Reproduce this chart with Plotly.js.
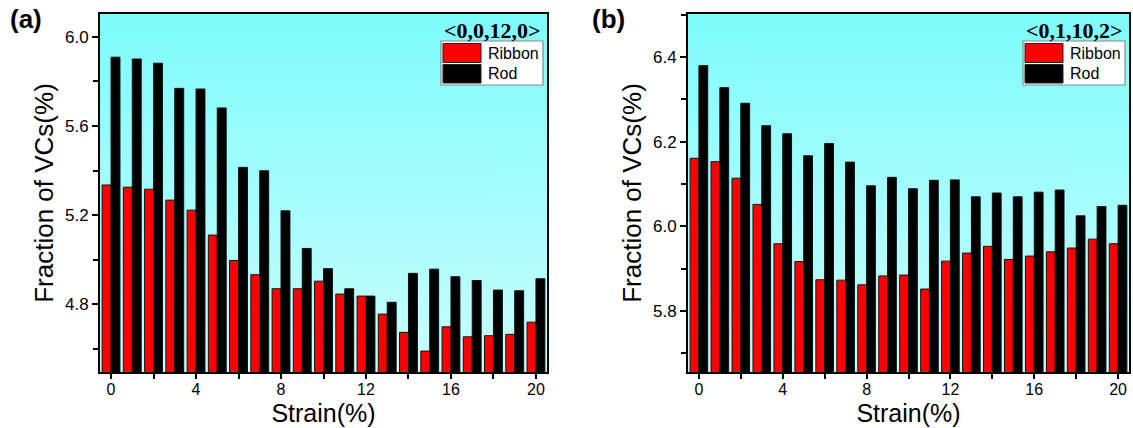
<!DOCTYPE html>
<html>
<head>
<meta charset="utf-8">
<script src="https://cdn.plot.ly/plotly-3.0.1.min.js"></script>
<style>
  html, body { margin: 0; padding: 0; background: #ffffff; }
  #chart { width: 1133px; height: 428px; }
</style>
</head>
<body>
<div id="chart"></div>
<script>
// ---------------- data ----------------
const strain = [0, 1, 2, 3, 4, 5, 6, 7, 8, 9, 10, 11, 12, 13, 14, 15, 16, 17, 18, 19, 20];

// panel (a) <0,0,12,0>
const ribbonA = [5.335, 5.325, 5.316, 5.267, 5.222, 5.110, 4.996, 4.932, 4.869, 4.869, 4.903,
                 4.845, 4.836, 4.755, 4.673, 4.589, 4.698, 4.653, 4.658, 4.664, 4.719];
const rodA    = [5.909, 5.901, 5.882, 5.769, 5.766, 5.681, 5.414, 5.399, 5.219, 5.050, 4.959,
                 4.869, 4.836, 4.808, 4.938, 4.957, 4.923, 4.906, 4.863, 4.860, 4.914];

// panel (b) <0,1,10,2>
const ribbonB = [6.161, 6.153, 6.114, 6.052, 5.959, 5.917, 5.874, 5.873, 5.862, 5.883, 5.885,
                 5.852, 5.918, 5.937, 5.953, 5.922, 5.930, 5.940, 5.949, 5.970, 5.959];
const rodB    = [6.380, 6.328, 6.291, 6.238, 6.219, 6.167, 6.196, 6.152, 6.096, 6.116, 6.089,
                 6.109, 6.110, 6.070, 6.079, 6.070, 6.081, 6.086, 6.025, 6.047, 6.050];

const seriesNames = ["Ribbon", "Rod"];
const panelLabels = ["(a)", "(b)"];
const clusterLabels = ["<0,0,12,0>", "<0,1,10,2>"];
const xTitle = "Strain(%)";
const yTitle = "Fraction of VCs(%)";

// ---------------- styling ----------------
const W = 1133, H = 428;
const RED = "#ff0000", BLACK = "#000000";
const SANS = "Liberation Sans, Arial, sans-serif";
const SERIF = "Liberation Serif, Times New Roman, serif";

// plot boxes in pixels
const boxes = [
  {L: 100, R: 547, T: 14, B: 372},
  {L: 688, R: 1129, T: 14, B: 372}
];
const px = x => x / W;
const py = y => 1 - y / H;

// gradient background image
function gradientURI() {
  const c = document.createElement("canvas");
  c.width = 4; c.height = 256;
  const g = c.getContext("2d");
  const grd = g.createLinearGradient(0, 0, 0, 256);
  grd.addColorStop(0, "rgb(126,252,252)");
  grd.addColorStop(1, "rgb(202,254,254)");
  g.fillStyle = grd;
  g.fillRect(0, 0, 4, 256);
  return c.toDataURL("image/png");
}
const bgURI = gradientURI();

function barTrace(y, name, color, xa, ya) {
  return {
    type: "bar", x: strain, y: y, name: name, xaxis: xa, yaxis: ya,
    marker: {color: color, line: {color: "#111111", width: 1}},
    showlegend: false, hoverinfo: "x+y+name"
  };
}

const data = [
  barTrace(ribbonA, seriesNames[0], RED, "x", "y"),
  barTrace(rodA, seriesNames[1], BLACK, "x", "y"),
  barTrace(ribbonB, seriesNames[0], RED, "x2", "y2"),
  barTrace(rodB, seriesNames[1], BLACK, "x2", "y2")
];

function xAxis(box, anchor) {
  return {
    domain: [px(box.L), px(box.R)], anchor: anchor,
    range: [-0.52, 20.52],
    tickmode: "linear", tick0: 0, dtick: 4,
    ticks: "outside", ticklen: 5, tickwidth: 2, tickcolor: "#000",
    ticklabelstandoff: -3,
    minor: {dtick: 2, tick0: 0, ticks: "outside", ticklen: 5, tickwidth: 2, tickcolor: "#000"},
    showline: true, linecolor: "#000", linewidth: 2, mirror: true,
    showgrid: false, zeroline: false,
    tickfont: {family: SANS, size: 16, color: "#000"},
    title: {text: xTitle, font: {family: SANS, size: 25, color: "#000"}, standoff: 7}
  };
}
function yAxis(box, anchor, range, dtick, tick0) {
  return {
    domain: [py(box.B), py(box.T)], anchor: anchor,
    range: range,
    tickmode: "linear", tick0: tick0, dtick: dtick, tickformat: ".1f",
    ticks: "outside", ticklen: 6, tickwidth: 2, tickcolor: "#000",
    minor: {dtick: dtick / 2, tick0: tick0, ticks: "outside", ticklen: 5, tickwidth: 2, tickcolor: "#000"},
    showline: true, linecolor: "#000", linewidth: 2, mirror: true,
    showgrid: false, zeroline: false,
    tickfont: {family: SANS, size: 17, color: "#000"},
    title: {text: yTitle, font: {family: SANS, size: 26, color: "#000"}, standoff: 4}
  };
}

const shapes = [];
const annotations = [];
const images = [];

boxes.forEach((b, i) => {
  // background gradient
  images.push({
    source: bgURI, xref: "paper", yref: "paper",
    x: px(b.L), y: py(b.T), sizex: px(b.R) - px(b.L), sizey: py(b.T) - py(b.B),
    xanchor: "left", yanchor: "top", sizing: "stretch", layer: "below"
  });
  // panel label
  annotations.push({
    text: "<b>" + panelLabels[i] + "</b>", xref: "paper", yref: "paper",
    x: px(b.L - (i === 0 ? 92 : 98)), y: py(19), xanchor: "left", yanchor: "middle",
    showarrow: false, font: {family: SANS, size: 26, color: "#000"}
  });
  // cluster label (legend title)
  annotations.push({
    text: "<b>" + clusterLabels[i].replace(/</g, "&lt;").replace(/>/g, "&gt;") + "</b>",
    xref: "paper", yref: "paper",
    x: px(b.R - 55), y: py(31), xanchor: "center", yanchor: "middle",
    showarrow: false, font: {family: SERIF, size: 22, color: "#000"}
  });
  // legend box
  shapes.push({
    type: "rect", xref: "paper", yref: "paper",
    x0: px(b.R - 106), x1: px(b.R - 4), y0: py(85), y1: py(41),
    fillcolor: "#ffffff", line: {color: "#888888", width: 1.2}
  });
  const colors = [RED, BLACK];
  const rows = [[43.5, 62.5], [64.5, 83]];
  rows.forEach((r, k) => {
    shapes.push({
      type: "rect", xref: "paper", yref: "paper",
      x0: px(b.R - 104), x1: px(b.R - 66), y0: py(r[1]), y1: py(r[0]),
      fillcolor: colors[k], line: {color: "#222222", width: 1}
    });
    annotations.push({
      text: seriesNames[k], xref: "paper", yref: "paper",
      x: px(b.R - 61), y: py((r[0] + r[1]) / 2), xanchor: "left", yanchor: "middle",
      showarrow: false, font: {family: SANS, size: 16, color: "#000"}
    });
  });
});

const layout = {
  width: W, height: H,
  margin: {l: 0, r: 0, t: 0, b: 0},
  paper_bgcolor: "#ffffff",
  plot_bgcolor: "rgba(0,0,0,0)",
  barmode: "group", bargap: 0.16, bargroupgap: 0,
  showlegend: false,
  xaxis: xAxis(boxes[0], "y"),
  yaxis: yAxis(boxes[0], "x", [4.495, 6.103], 0.4, 4.8),
  xaxis2: xAxis(boxes[1], "y2"),
  yaxis2: yAxis(boxes[1], "x2", [5.656, 6.502], 0.2, 5.8),
  shapes: shapes, annotations: annotations, images: images
};

Plotly.newPlot("chart", data, layout, {displayModeBar: false, staticPlot: true});
</script>
</body>
</html>
